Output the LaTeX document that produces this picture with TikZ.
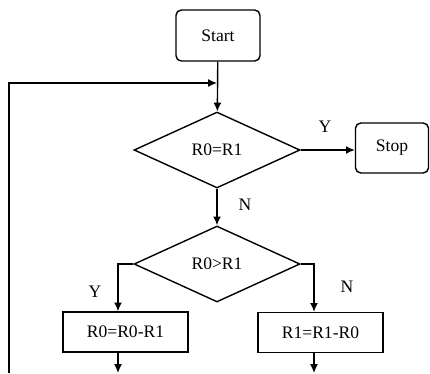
\documentclass[tikz,border=0pt]{standalone}
\usepackage{fontspec}
\setmainfont{Liberation Serif}
\usetikzlibrary{positioning,arrows.meta,shapes.geometric}

\begin{document}
\begin{tikzpicture}[
  x=0.02cm, y=-0.02cm,
  >={Latex[length=5pt,width=4.5pt]},
  line width=0.8pt,
  every node/.style={font=\normalsize},
  term/.style={draw, rounded corners=3pt, minimum width=1.68cm, minimum height=1.02cm},
  test/.style={draw, diamond, inner sep=0pt, minimum width=3.32cm, minimum height=1.52cm},
  proc/.style={draw, minimum width=2.5cm, minimum height=0.8cm}
]
  \useasboundingbox (0,0) rectangle (430,373);

  \node[term] (start) at (218,35.5) {Start};
  \node[test] (eq) at (217,150) {R0=R1};
  \node[term, minimum width=1.46cm, minimum height=1cm] (stop) at (392,148) {Stop};
  \node[test] (gt) at (217,264) {R0>R1};
  \node[proc] (sub0) at (125.5,332) {R0=R0-R1};
  \node[proc] (sub1) at (320.5,332.5) {R1=R1-R0};

  \coordinate (join) at (217,83);
  \coordinate (fb) at (9,373);
  \coordinate (yl) at (118,264);
  \coordinate (nr) at (314,264);
  \coordinate (out0) at (118,373);
  \coordinate (out1) at (314,373);

  \draw[->] (start) -- (eq);
  \draw[->] (eq.east) -- (eq.east -| stop.west);
  \draw[->] (eq) -- (gt);
  \draw[->] (gt.west) -- (yl) -- (yl |- sub0.north);
  \draw[->] (gt.east) -- (nr) -- (nr |- sub1.north);
  \draw[->] (out0 |- sub0.south) -- (out0);
  \draw[->] (out1 |- sub1.south) -- (out1);
  \draw[->] (fb) |- (join);

  \node at (325,127) {Y};
  \node at (245,205) {N};
  \node at (95,292) {Y};
  \node at (347,287) {N};
\end{tikzpicture}
\end{document}
